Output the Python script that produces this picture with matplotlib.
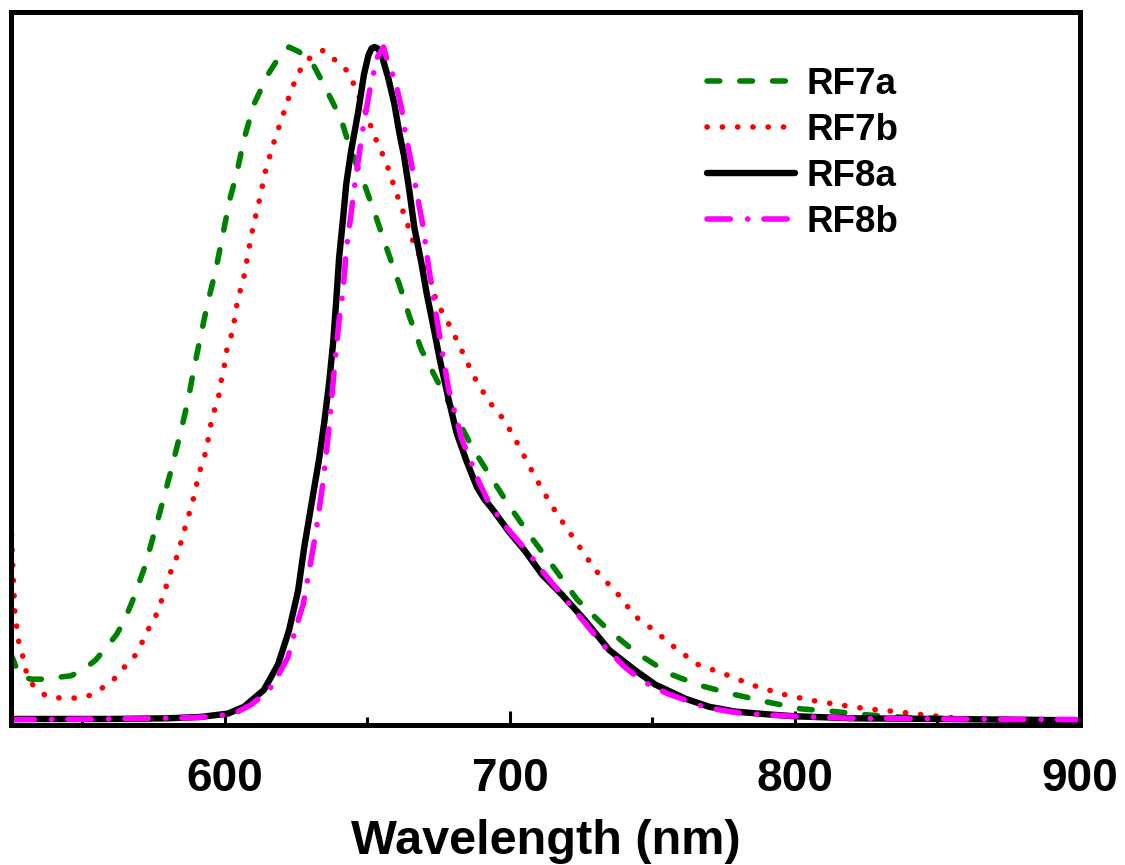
import matplotlib
matplotlib.use("Agg")
import matplotlib.pyplot as plt
from matplotlib.ticker import MultipleLocator

# ---- data (normalized PL spectra) ----
rf7a_x = [525, 528, 532, 537, 542, 546, 550, 554.6, 558, 562, 565, 567.6, 571.8, 575, 578.2,
          581.3, 584.2, 587, 589.1, 591.5, 594, 596.8, 599.3, 601.8, 604.2, 606.7, 610.2, 615.1,
          619, 622.5, 626, 631, 635.6, 640.8, 643.7, 649, 653.2, 657, 661.3, 664.8, 669, 674.3,
          680.3, 687, 693.7, 699.6, 707, 715.5, 723.6, 733.5, 744, 756, 766.5, 778, 790.5, 802,
          814, 825.7, 840, 860, 880, 900]
rf7a_y = [0.10, 0.068, 0.063, 0.063, 0.066, 0.068, 0.076, 0.091, 0.108, 0.129, 0.152, 0.179, 0.228,
          0.276, 0.326, 0.375, 0.424, 0.474, 0.522, 0.571, 0.621, 0.669, 0.722, 0.775, 0.813, 0.863,
          0.915, 0.959, 0.985, 1.0, 0.993, 0.974, 0.937, 0.893, 0.853, 0.796, 0.746, 0.699, 0.647,
          0.600, 0.551, 0.507, 0.459, 0.405, 0.360, 0.321, 0.276, 0.228, 0.181, 0.140, 0.103, 0.071,
          0.054, 0.041, 0.029, 0.019, 0.015, 0.010, 0.006, 0.004, 0.003, 0.003]

rf7b_x = [525, 525.7, 526.4, 527.1, 527.8, 529.2, 530.3, 532.7, 537.3, 542.3, 547.2, 552.1, 557,
          560.9, 564.8, 568.5, 570.8, 572.9, 575.7, 577.5, 579.2, 580.6, 582.7, 584.2, 585.6, 587,
          588.4, 589.8, 590.5, 592.3, 593.7, 594.4, 595.4, 596.8, 598.2, 598.9, 600, 600.7, 602.1,
          603.2, 603.9, 604.9, 606.3, 607.4, 608.1, 610, 612.3, 614.4, 617.3, 620.4, 623.2, 626,
          629.2, 632.7, 634.5, 636.3, 639.1, 642.6, 645.1, 648.9, 652.5, 656.7, 659.9, 663.4, 666.5,
          671.5, 674.3, 678.9, 682.7, 687.3, 692.6, 698.2, 703.5, 708.8, 714.4, 719.4, 724.3, 729.9,
          737.7, 744, 751, 758.1, 765.8, 775.7, 785.2, 795.4, 805.3, 815.5, 825.4, 835.2, 845.4,
          855, 865, 880, 900]
rf7b_y = [0.30, 0.22, 0.159, 0.137, 0.116, 0.096, 0.075, 0.054, 0.038, 0.035, 0.035, 0.038, 0.050,
          0.062, 0.081, 0.098, 0.116, 0.135, 0.156, 0.176, 0.197, 0.218, 0.238, 0.260, 0.281, 0.301,
          0.322, 0.343, 0.363, 0.385, 0.406, 0.426, 0.447, 0.468, 0.488, 0.510, 0.531, 0.551, 0.569,
          0.591, 0.611, 0.632, 0.651, 0.674, 0.694, 0.735, 0.776, 0.819, 0.860, 0.899, 0.935, 0.963,
          0.982, 0.990, 0.995, 0.990, 0.979, 0.966, 0.946, 0.909, 0.868, 0.828, 0.787, 0.746, 0.706,
          0.665, 0.622, 0.587, 0.554, 0.512, 0.475, 0.446, 0.406, 0.363, 0.322, 0.290, 0.260, 0.225,
          0.190, 0.156, 0.134, 0.109, 0.085, 0.070, 0.054, 0.041, 0.032, 0.025, 0.019, 0.015, 0.010,
          0.006, 0.003, 0.002, 0.002]

rf8a_x = [525, 560, 580, 591.5, 601.1, 606.7, 613.7, 618.7, 622.5, 625.7, 627.8, 630.3, 633.1,
          634.9, 636.6, 638, 639.1, 640.1, 641.5, 642.6, 644.3, 646.8, 648.8, 650.4, 651.5, 652.5,
          653.6, 654.9, 657.4, 659.5, 661.3, 662.9, 664.8, 666.5, 669, 670.8, 673.2, 675.4, 678.5,
          681.3, 684.9, 688.4, 691, 693.7, 699.6, 705.3, 711.3, 718.3, 726.4, 734.9, 744, 751,
          761.6, 770, 779, 790, 800, 820, 850, 900]
rf8a_y = [0.004, 0.004, 0.005, 0.007, 0.012, 0.022, 0.047, 0.085, 0.135, 0.194, 0.257, 0.320, 0.390,
          0.444, 0.503, 0.562, 0.625, 0.688, 0.747, 0.797, 0.846, 0.904, 0.959, 0.988, 0.998, 1.0,
          0.998, 0.990, 0.953, 0.915, 0.871, 0.838, 0.785, 0.732, 0.679, 0.635, 0.585, 0.537, 0.478,
          0.428, 0.385, 0.348, 0.330, 0.316, 0.282, 0.253, 0.218, 0.188, 0.150, 0.106, 0.076, 0.055,
          0.034, 0.022, 0.015, 0.011, 0.008, 0.005, 0.004, 0.002]

rf8b_x = [525, 560, 590, 598.6, 604.6, 609.2, 613, 616.9, 622.2, 625, 627.5, 629.6, 632, 634.5,
          636.6, 638.4, 640.1, 641.5, 642.6, 644.4, 646.1, 648.5, 651, 653.5, 655.7, 657.7, 659.5,
          662, 663.4, 665.5, 667.5, 669.5, 671.8, 675, 678.5, 683.1, 689.1, 693, 699.6, 706, 712,
          719, 726, 732.4, 740, 746.5, 755, 768.7, 780, 790, 800, 820, 850, 900]
rf8b_y = [0.003, 0.004, 0.006, 0.009, 0.015, 0.025, 0.038, 0.054, 0.096, 0.140, 0.174, 0.224, 0.282,
          0.356, 0.438, 0.522, 0.596, 0.640, 0.699, 0.757, 0.812, 0.880, 0.940, 0.985, 1.0, 0.968,
          0.955, 0.909, 0.871, 0.826, 0.780, 0.735, 0.665, 0.581, 0.493, 0.419, 0.356, 0.321, 0.284,
          0.253, 0.220, 0.184, 0.148, 0.115, 0.082, 0.060, 0.042, 0.021, 0.013, 0.010, 0.008, 0.005,
          0.004, 0.003]

labels = ["RF7a", "RF7b", "RF8a", "RF8b"]
x_ticks = [600, 700, 800, 900]
x_label = "Wavelength (nm)"

plt.rcParams['font.family'] = ['Liberation Sans', 'DejaVu Sans']
plt.rcParams['font.weight'] = 'bold'

fig = plt.figure(figsize=(11.25, 8.65), dpi=100)
ax = fig.add_axes([0.0098, 0.1618, 0.9502, 0.8244])

lw = 4.0
ax.plot(rf7a_x, rf7a_y, color='#008000', lw=lw, dashes=(2.3, 3.6),
        dash_capstyle='round', label=labels[0])
ax.plot(rf7b_x, rf7b_y, color='#ff0000', lw=lw, dashes=(0.05, 2.7),
        dash_capstyle='round', label=labels[1])
ax.plot(rf8a_x, rf8a_y, color='black', lw=4.6, solid_capstyle='round',
        solid_joinstyle='round', label=labels[2])
ax.plot(rf8b_x, rf8b_y, color='#ff00ff', lw=lw, dashes=(4.2, 3.1, 0.05, 2.9),
        dash_capstyle='round', label=labels[3])

ax.set_xlim(525, 900)
ax.set_ylim(-0.005, 1.052)

ax.set_xticks(x_ticks)
ax.xaxis.set_minor_locator(MultipleLocator(50))
ax.tick_params(axis='x', which='major', direction='in', length=10, width=2.2,
               labelsize=33, pad=23, top=False)
ax.tick_params(axis='x', which='minor', direction='in', length=6, width=2.2, top=False)
ax.set_yticks([])
for lab in ax.get_xticklabels():
    lab.set_fontweight('bold')

for sp in ax.spines.values():
    sp.set_linewidth(3.6)

ax.set_xlabel(x_label, fontsize=35, fontweight='bold', labelpad=13)

leg = ax.legend(loc='upper left', bbox_to_anchor=(0.651, 0.923), frameon=False,
                prop={'size': 26.5, 'weight': 'bold'}, handlelength=2.4,
                handletextpad=0.3, labelspacing=0.3, borderpad=0, borderaxespad=0)

fig.savefig("out.png", dpi=100, facecolor='white')
